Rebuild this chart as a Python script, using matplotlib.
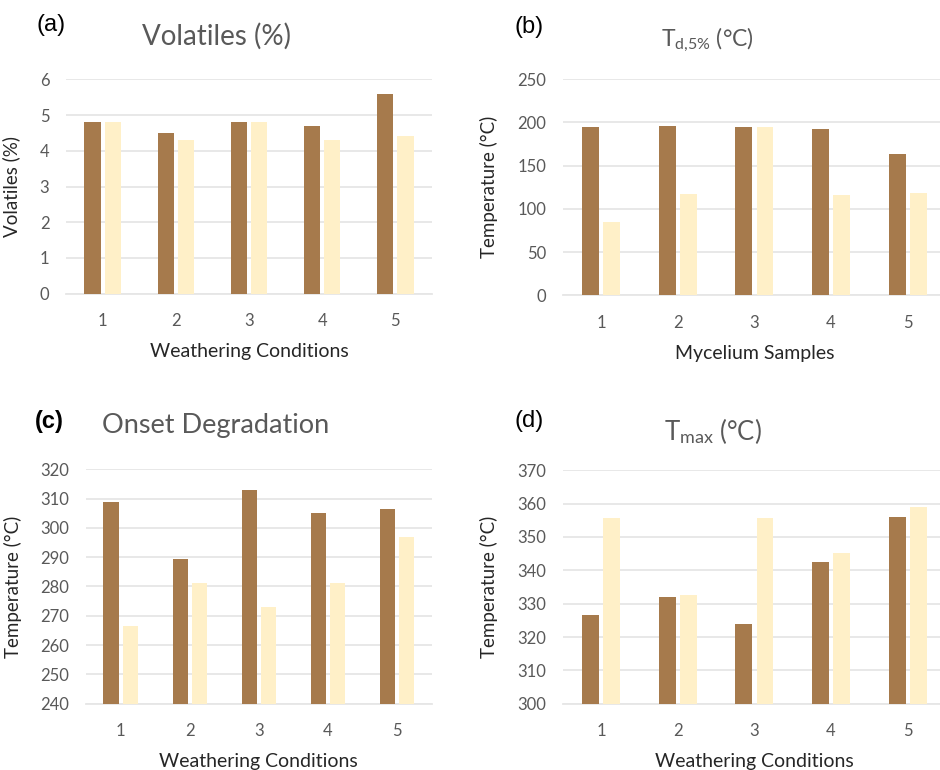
import numpy as np
import matplotlib
matplotlib.use("Agg")
import matplotlib.pyplot as plt

plt.rcParams['font.family'] = ['Lato', 'DejaVu Sans']
plt.rcParams['mathtext.fontset'] = 'custom'
plt.rcParams['mathtext.rm'] = 'Lato'
plt.rcParams['mathtext.it'] = 'Lato:italic'

samples = [1, 2, 3, 4, 5]

# (a) volatiles, %
volatiles_dark = [4.8, 4.5, 4.8, 4.7, 5.6]
volatiles_light = [4.8, 4.3, 4.8, 4.3, 4.4]

# (b) T d,5%, degC
td5_dark = [195, 196, 195, 192, 163]
td5_light = [85, 117, 195, 116, 118]

# (c) onset degradation, degC
onset_dark = [308.7, 289.3, 312.8, 305.1, 306.6]
onset_light = [266.4, 281.1, 272.9, 281.1, 296.8]

# (d) Tmax, degC
tmax_dark = [326.7, 331.9, 323.9, 342.5, 356.0]
tmax_light = [355.7, 332.5, 355.7, 345.2, 358.9]

DARK = '#A67A4C'
LIGHT = '#FFF0C8'
GRID = '#E6E6E6'
GREY = '#595959'
LABEL = '#262626'

W, H = 940, 770
fig = plt.figure(figsize=(W / 100, H / 100), dpi=100)


def px(x, y):
    # pixel position (top-left origin) -> figure fraction
    return x / W, 1 - y / H


def make_axes(x0, y0, x1, y1):
    fx0, fy1 = px(x0, y0)
    fx1, fy0 = px(x1, y1)
    return fig.add_axes([fx0, fy0, fx1 - fx0, fy1 - fy0])


def draw_panel(ax, dark, light, ylim, step, xlabel, ylabel, ylab_x):
    x = np.array(samples)
    w = 0.22
    off = 0.138
    ax.bar(x - off, dark, w, color=DARK, zorder=3)
    ax.bar(x + off, light, w, color=LIGHT, zorder=3)
    ax.set_xlim(0.5, 5.5)
    ax.set_ylim(*ylim)
    ax.set_yticks(np.arange(ylim[0], ylim[1] + step / 2, step))
    ax.set_xticks(x)
    ax.yaxis.grid(True, color=GRID, linewidth=1.3, zorder=0)
    ax.set_axisbelow(True)
    for s in ['top', 'right', 'left']:
        ax.spines[s].set_visible(False)
    ax.spines['bottom'].set_color(GRID)
    ax.spines['bottom'].set_linewidth(1.3)
    ax.tick_params(axis='both', length=0, labelsize=12, labelcolor=GREY)
    ax.tick_params(axis='y', pad=12)
    ax.tick_params(axis='x', pad=14)
    ax.set_xlabel(xlabel, fontsize=14, color=LABEL, labelpad=10)
    ax.set_ylabel(ylabel, fontsize=13.5, color=LABEL)
    bbox = ax.get_position()
    ax.yaxis.set_label_coords(ylab_x / W, (bbox.y0 + bbox.y1) / 2,
                              transform=fig.transFigure)


ax_a = make_axes(66, 79.3, 432, 293.7)
draw_panel(ax_a, volatiles_dark, volatiles_light, (0, 6), 1,
           'Weathering Conditions', 'Volatiles (%)', 20)

ax_b = make_axes(562.9, 79.3, 946, 295.3)
draw_panel(ax_b, td5_dark, td5_light, (0, 250), 50,
           'Mycelium Samples', 'Temperature (°C)', 498)

ax_c = make_axes(86, 469.3, 431.7, 703.7)
draw_panel(ax_c, onset_dark, onset_light, (240, 320), 10,
           'Weathering Conditions', 'Temperature (°C)', 22)

ax_d = make_axes(562.9, 470.3, 946, 703.7)
draw_panel(ax_d, tmax_dark, tmax_light, (300, 370), 10,
           'Weathering Conditions', 'Temperature (°C)', 498)

# chart titles
fig.text(*px(216.7, 36.5), 'Volatiles (%)', fontsize=20, color=GREY,
         ha='center', va='center')
fig.text(*px(707.5, 40), r'T$_{\mathrm{d{,}5\%}}$ (°C)', fontsize=16.5,
         color=GREY, ha='center', va='center')
fig.text(*px(215.8, 425), 'Onset Degradation', fontsize=19.5, color=GREY,
         ha='center', va='center')
fig.text(*px(712.5, 431), r'T$_{\mathrm{max}}$ (°C)', fontsize=18.5,
         color=GREY, ha='center', va='center')

# panel letters
for label, (lx, ly), weight in [('(a)', (36, 25), 'normal'),
                                ('(b)', (515, 27), 'normal'),
                                ('(c)', (35, 422), 'bold'),
                                ('(d)', (515, 421), 'normal')]:
    fig.text(*px(lx, ly), label, fontsize=17, family='Liberation Sans',
             fontweight=weight, ha='left', va='center')

fig.savefig('out.png', dpi=100)
